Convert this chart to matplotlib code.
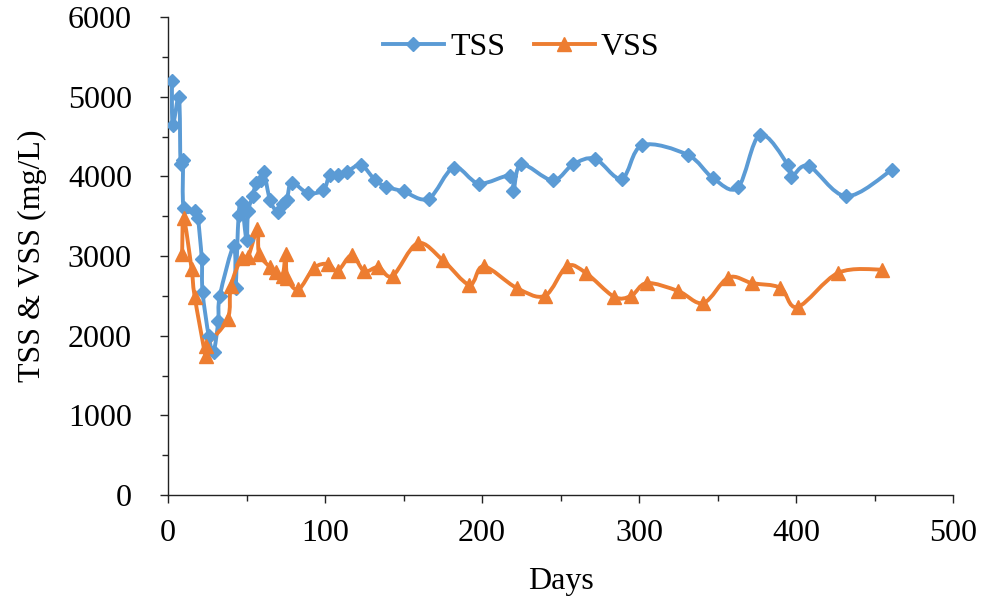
import numpy as np
import matplotlib
matplotlib.use('Agg')
import matplotlib.pyplot as plt
from matplotlib.path import Path
from matplotlib.patches import PathPatch
from matplotlib.lines import Line2D
from matplotlib.ticker import MultipleLocator

# TSS readings (day, mg/L)
tss_days = [2.5, 3, 7, 8, 9.5, 10, 17, 19, 21.5, 22, 26, 29, 32, 33, 42, 43, 45, 47,
            50, 51, 54, 56, 59, 61, 65, 70, 73, 75.6, 78.8, 89, 99, 103, 108, 114, 123,
            132, 139, 150, 166, 182, 198, 218, 220, 225, 245, 258, 272, 289, 302, 331,
            347, 363, 377, 395, 397, 408, 432, 461]
tss_vals = [5200, 4640, 4990, 4150, 4200, 3600, 3570, 3480, 2960, 2550, 1990, 1800, 2180, 2500,
            3130, 2600, 3520, 3660, 3200, 3560, 3750, 3920, 3950, 4060, 3700, 3550, 3650, 3700,
            3920, 3790, 3830, 4020, 4020, 4060, 4140, 3950, 3870, 3810, 3720, 4110, 3910, 4010,
            3810, 4150, 3950, 4150, 4220, 3970, 4390, 4270, 3980, 3860, 4520, 4140, 3990, 4130,
            3750, 4080]

# VSS readings (day, mg/L)
vss_days = [9, 10, 15, 17, 24, 24.5, 38, 40, 47, 51, 57, 58, 65, 69, 73, 75, 76, 83, 93,
            102, 108, 117, 125, 134, 143, 159, 175, 192, 201, 222, 240, 254, 266, 284, 295,
            305, 325, 341, 357, 372, 390, 401, 427, 455]
vss_vals = [3030, 3480, 2840, 2490, 1740, 1870, 2210, 2620, 2980, 2990, 3340, 3030, 2860, 2800,
            2750, 3030, 2730, 2580, 2850, 2900, 2810, 3010, 2810, 2860, 2750, 3160, 2950, 2640,
            2870, 2600, 2500, 2870, 2790, 2490, 2500, 2660, 2560, 2410, 2730, 2660, 2600, 2360,
            2790, 2830]

BLUE = '#5B9BD5'
ORANGE = '#ED7D31'
FS = 23

plt.rcParams['font.family'] = ['Liberation Serif', 'DejaVu Serif']


def smooth_path(x, y):
    """Excel-style smoothed line: cubic bezier through the points."""
    p = np.column_stack([x, y]).astype(float)
    n = len(p)
    verts = [p[0]]
    codes = [Path.MOVETO]
    for i in range(n - 1):
        p0 = p[i - 1] if i > 0 else p[i]
        p1, p2 = p[i], p[i + 1]
        p3 = p[i + 2] if i + 2 < n else p[i + 1]
        c1 = p1 + (p2 - p0) / 6.0
        c2 = p2 - (p3 - p1) / 6.0
        verts += [c1, c2, p2]
        codes += [Path.CURVE4] * 3
    return Path(verts, codes)


fig = plt.figure(figsize=(9.84, 6.05), dpi=100)
ax = fig.add_axes([168 / 984, 110 / 605, 785 / 984, 478 / 605])

LW = 2.8
styles = [(tss_days, tss_vals, BLUE, 'D', 7.5),
          (vss_days, vss_vals, ORANGE, '^', 10)]
for days, vals, color, marker, ms in styles:
    ax.add_patch(PathPatch(smooth_path(days, vals), facecolor='none',
                           edgecolor=color, lw=LW, zorder=2))
    ax.plot(days, vals, linestyle='none', marker=marker, ms=ms,
            color=color, zorder=3)

ax.set_xlim(0, 500)
ax.set_ylim(0, 6000)
ax.xaxis.set_major_locator(MultipleLocator(100))
ax.xaxis.set_minor_locator(MultipleLocator(50))
ax.yaxis.set_major_locator(MultipleLocator(1000))
ax.yaxis.set_minor_locator(MultipleLocator(500))

ax.spines['top'].set_visible(False)
ax.spines['right'].set_visible(False)
for s in ['left', 'bottom']:
    ax.spines[s].set_linewidth(1.0)
    ax.spines[s].set_color('#222222')

ax.tick_params(which='major', direction='out', length=6, width=1.0,
               labelsize=FS, color='#222222')
ax.tick_params(which='minor', direction='out', length=4, width=1.0, color='#222222')
ax.tick_params(axis='x', which='major', pad=11)
ax.tick_params(axis='y', which='major', pad=20)

ax.set_xlabel('Days', fontsize=FS, labelpad=14)
ax.set_ylabel('TSS & VSS (mg/L)', fontsize=FS, labelpad=15)

handles = [Line2D([], [], color=BLUE, lw=LW, marker='D', ms=7.5),
           Line2D([], [], color=ORANGE, lw=LW, marker='^', ms=10)]
ax.legend(handles, ['TSS', 'VSS'], loc='upper center', bbox_to_anchor=(0.45, 1.0),
          ncol=2, frameon=False, fontsize=FS, handlelength=1.9,
          handletextpad=0.2, columnspacing=0.9, borderaxespad=0.1)

fig.savefig('out.png', dpi=100)
